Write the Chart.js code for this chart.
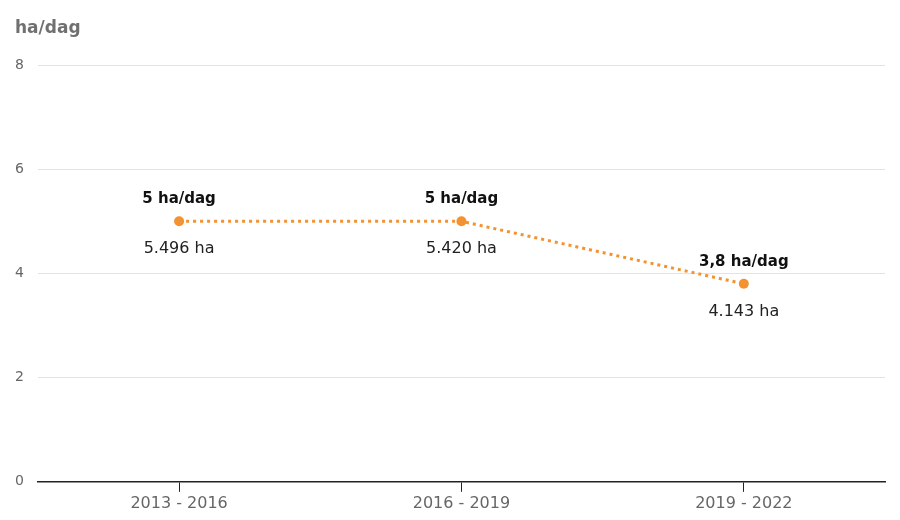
<!DOCTYPE html>
<html>
<head>
<meta charset="utf-8">
<script src="https://cdn.jsdelivr.net/npm/chart.js@4"></script>
<style>
  body { margin: 0; background: #fff; }
  #wrap { width: 900px; height: 520px; }
</style>
</head>
<body>
<div id="wrap"><canvas id="graphCanvas"></canvas></div>
<script>
// data
var categories = ['2013 - 2016', '2016 - 2019', '2019 - 2022'];
var rateValues = [5, 5, 3.8];
var rateLabels = ['5 ha/dag', '5 ha/dag', '3,8 ha/dag'];
var totalLabels = ['5.496 ha', '5.420 ha', '4.143 ha'];
var yTicks = [0, 2, 4, 6, 8];
var unitTitle = 'ha/dag';

var orange = '#f39230';
var fontName = "'DejaVu Sans', Verdana, sans-serif";

// labels above / below each point, and the unit title top left
var pointLabels = {
    id: 'pointLabels',
    afterDatasetsDraw: function (chart) {
        var ctx = chart.ctx;
        var meta = chart.getDatasetMeta(0);
        ctx.save();
        ctx.textAlign = 'center';
        ctx.textBaseline = 'middle';
        meta.data.forEach(function (pt, i) {
            ctx.fillStyle = '#111';
            ctx.font = 'bold 15px ' + fontName;
            ctx.fillText(rateLabels[i], pt.x, pt.y - 22);
            ctx.fillStyle = '#222';
            ctx.font = '16px ' + fontName;
            ctx.fillText(totalLabels[i], pt.x, pt.y + 28);
        });
        ctx.textAlign = 'left';
        ctx.fillStyle = '#707070';
        ctx.font = 'bold 17px ' + fontName;
        ctx.fillText(unitTitle, 15, 29);
        ctx.restore();
    }
};

new Chart(document.getElementById('graphCanvas'), {
    type: 'line',
    data: {
        labels: categories,
        datasets: [
            {
                data: rateValues,
                borderColor: orange,
                backgroundColor: orange,
                borderWidth: 3,
                borderDash: [3, 4],
                borderCapStyle: 'butt',
                pointRadius: 5,
                pointHoverRadius: 5,
                pointBorderWidth: 0,
                tension: 0
            }
        ]
    },
    options: {
        responsive: true,
        maintainAspectRatio: false,
        animation: false,
        layout: { padding: { left: 1, right: 15, bottom: 5, top: 65 } },
        plugins: {
            legend: { display: false },
            tooltip: { enabled: false },
            title: { display: false }
        },
        scales: {
            x: {
                offset: true,
                grid: {
                    display: true,
                    drawOnChartArea: false,
                    drawTicks: true,
                    tickLength: 10,
                    color: '#222',
                    offset: false
                },
                border: { display: true, color: '#222', width: 1.5 },
                ticks: {
                    color: '#666',
                    padding: 2,
                    font: { family: fontName, size: 16 }
                }
            },
            y: {
                min: 0,
                max: 8,
                afterBuildTicks: function (axis) {
                    axis.ticks = yTicks.map(function (v) { return { value: v }; });
                },
                grid: { color: '#e3e3e3', drawTicks: false, lineWidth: 1 },
                border: { display: false },
                ticks: {
                    color: '#666',
                    padding: 14,
                    font: { family: fontName, size: 14 }
                }
            }
        }
    },
    plugins: [pointLabels]
});
</script>
</body>
</html>
